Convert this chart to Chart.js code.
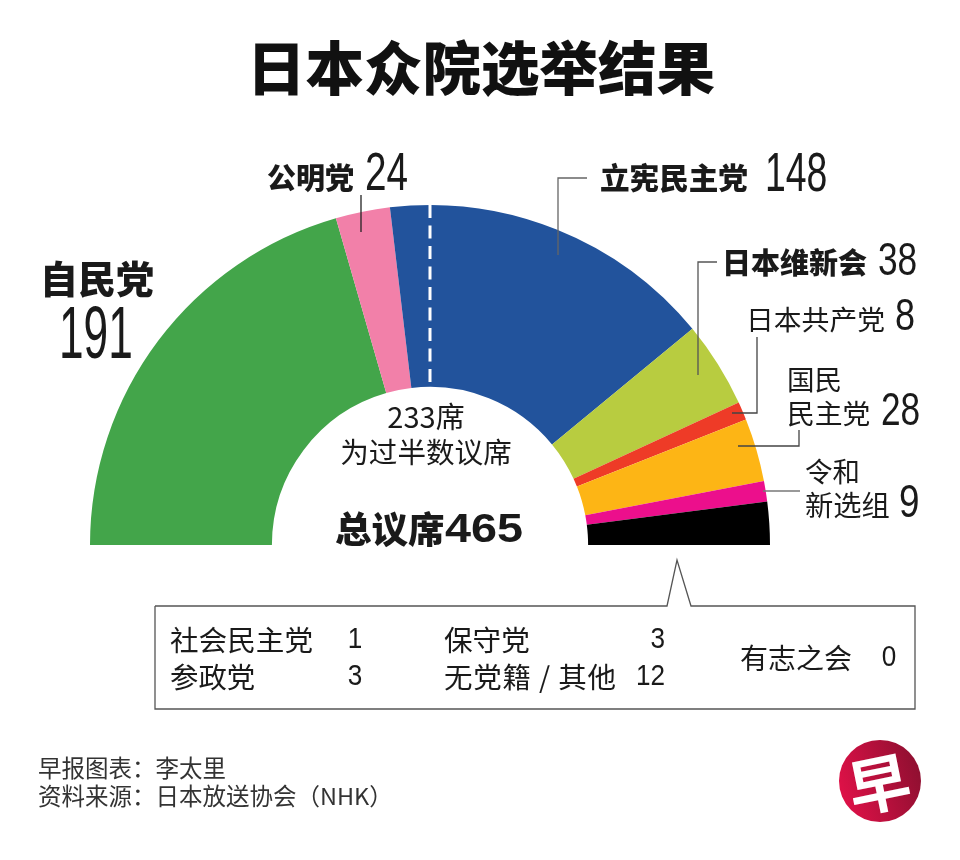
<!DOCTYPE html>
<html>
<head>
<meta charset="utf-8">
<style>
  html, body { margin: 0; padding: 0; background: #fff; }
  canvas { display: block; }
</style>
<script src="https://cdn.jsdelivr.net/npm/chart.js@4/dist/chart.umd.min.js"></script>
</head>
<body>
<canvas id="seatChart" width="960" height="860"></canvas>
<script>
const parties = ['自民党', '公明党', '立宪民主党', '日本维新会', '日本共产党', '国民民主党', '令和新选组', '其他'];
const seats = [191, 24, 148, 38, 8, 28, 9, 19];
const colors = ['#43A54A', '#F280A9', '#22539C', '#B8CC40', '#EE3B27', '#FDB515', '#EC0F8C', '#000000'];

const titleText = '日本众院选举结果';
const majorityLines = ['233席', '为过半数议席'];
const totalLabel = '总议席';
const totalSeats = 465;
const otherNames = ['社会民主党', '参政党', '保守党', '无党籍 / 其他', '有志之会'];
const otherSeats = [1, 3, 3, 12, 0];
const creditLines = ['早报图表：李太里', '资料来源：日本放送协会（NHK）'];

const CJK = '"Noto Sans CJK SC", "Noto Sans", sans-serif';
const LATIN = '"Liberation Sans", Arial, sans-serif';

function label(ctx, str, x, y, size, opts) {
  const o = opts || {};
  ctx.save();
  ctx.font = (o.weight || 400) + ' ' + size + 'px ' + (o.family || CJK);
  ctx.fillStyle = o.color || '#1a1a1a';
  ctx.textAlign = o.align || 'left';
  ctx.textBaseline = 'middle';
  ctx.letterSpacing = (o.spacing || 0) + 'px';
  ctx.translate(x, y);
  ctx.scale(o.sx || 1, 1);
  ctx.fillText(str, 0, 0);
  ctx.restore();
}

// tall thin seat numbers, sits on a given baseline
function bigNumber(ctx, value, x, base, size, sx) {
  ctx.save();
  ctx.font = '400 ' + size + 'px ' + LATIN;
  ctx.fillStyle = '#1a1a1a';
  ctx.textBaseline = 'alphabetic';
  ctx.translate(x, base);
  ctx.scale(sx, 1);
  ctx.fillText(String(value), 0, 0);
  ctx.restore();
}

function leader(ctx, pts, color) {
  ctx.save();
  ctx.strokeStyle = color || '#555';
  ctx.lineWidth = 1.3;
  ctx.beginPath();
  pts.forEach((p, i) => i ? ctx.lineTo(p[0], p[1]) : ctx.moveTo(p[0], p[1]));
  ctx.stroke();
  ctx.restore();
}

const annotations = {
  id: 'annotations',
  afterDraw(chart) {
    const ctx = chart.ctx;
    const arc = chart.getDatasetMeta(0).data[0];
    const cx = arc.x, cy = arc.y;

    // majority line
    ctx.save();
    ctx.strokeStyle = '#fff';
    ctx.lineWidth = 3;
    ctx.setLineDash([13, 7.5]);
    ctx.beginPath();
    ctx.moveTo(cx, cy - arc.outerRadius);
    ctx.lineTo(cx, cy - arc.innerRadius);
    ctx.stroke();
    ctx.restore();

    label(ctx, titleText, 481, 68, 58.5, { weight: 900, align: 'center', color: '#111' });

    // party labels
    label(ctx, parties[0], 40, 279, 38, { weight: 900 });
    bigNumber(ctx, seats[0], 59, 358, 75, 0.59);
    label(ctx, parties[1], 267, 178, 29, { weight: 900 });
    bigNumber(ctx, seats[1], 365, 190, 53, 0.73);
    label(ctx, parties[2], 600, 178, 29.6, { weight: 900 });
    bigNumber(ctx, seats[2], 765, 191, 55, 0.68);
    label(ctx, parties[3], 722, 263, 29, { weight: 900 });
    bigNumber(ctx, seats[3], 878, 275, 47, 0.75);
    label(ctx, parties[4], 746, 319, 27.8);
    bigNumber(ctx, seats[4], 895, 330, 45, 0.8);
    label(ctx, parties[5].slice(0, 2), 787, 380, 27.5);
    label(ctx, parties[5].slice(2), 787, 413, 27.8);
    bigNumber(ctx, seats[5], 881, 425, 47, 0.75);
    label(ctx, parties[6].slice(0, 2), 805, 472, 27.5);
    label(ctx, parties[6].slice(2), 805, 505, 28.3);
    bigNumber(ctx, seats[6], 899, 517, 46, 0.8);

    // leader lines
    leader(ctx, [[361, 195], [361, 232]], '#222');
    leader(ctx, [[558, 255], [558, 178], [587, 178]], '#666');
    leader(ctx, [[698, 375], [698, 262], [717, 262]], '#555');
    leader(ctx, [[757, 337], [757, 413], [732, 413]], '#444');
    leader(ctx, [[799, 430], [799, 446], [738, 446]], '#444');
    leader(ctx, [[763, 491], [800, 491]], '#777');

    // centre text
    label(ctx, majorityLines[0], 426, 417, 29, { align: 'center' });
    label(ctx, majorityLines[1], 426, 452, 28.6, { align: 'center' });
    label(ctx, totalLabel, 335, 529, 36.5, { weight: 900 });
    label(ctx, String(totalSeats), 445, 531, 41, { weight: 700, family: LATIN, sx: 1.14 });

    // box for the small parties
    leader(ctx, [[155, 606], [667, 606], [677, 560], [691, 606], [915, 606], [915, 709], [155, 709], [155, 606]], '#555');
    const digit = { family: LATIN, sx: 0.9 };
    label(ctx, otherNames[0], 170, 640, 28.6);
    label(ctx, String(otherSeats[0]), 355, 640, 29, { ...digit, align: 'center' });
    label(ctx, otherNames[1], 170, 677, 28.4);
    label(ctx, String(otherSeats[1]), 355, 677, 29, { ...digit, align: 'center' });
    label(ctx, otherNames[2], 444, 640, 28.6);
    label(ctx, String(otherSeats[2]), 665, 640, 29, { ...digit, align: 'right' });
    label(ctx, otherNames[3], 444, 677, 28.5, { spacing: 0.8 });
    label(ctx, String(otherSeats[3]), 665, 677, 29, { ...digit, align: 'right' });
    label(ctx, otherNames[4], 740, 658, 28);
    label(ctx, String(otherSeats[4]), 889, 658, 29, { ...digit, align: 'center' });

    // credits
    label(ctx, creditLines[0], 38, 768, 23.5, { color: '#333' });
    label(ctx, creditLines[1], 38, 796, 23.5, { color: '#333' });

    // logo
    ctx.save();
    const grad = ctx.createLinearGradient(842, 790, 920, 765);
    grad.addColorStop(0, '#DC1147');
    grad.addColorStop(1, '#8E0F30');
    ctx.fillStyle = grad;
    ctx.beginPath();
    ctx.arc(880, 781, 41, 0, Math.PI * 2);
    ctx.fill();
    ctx.translate(879, 784);
    ctx.rotate(-0.2);
    label(ctx, '早', 0, 0, 62, { weight: 700, align: 'center', color: '#fff' });
    ctx.restore();
  }
};

new Chart(document.getElementById('seatChart'), {
  type: 'doughnut',
  data: {
    labels: parties,
    datasets: [{ data: seats, backgroundColor: colors, borderWidth: 0 }]
  },
  options: {
    responsive: false,
    animation: false,
    rotation: -90,
    circumference: 180,
    cutout: '46.5%',
    layout: { padding: { left: 90, right: 190, top: 205, bottom: 315 } },
    plugins: { legend: { display: false }, tooltip: { enabled: false } }
  },
  plugins: [{
    id: 'whiteBg',
    beforeDraw(chart) {
      chart.ctx.save();
      chart.ctx.fillStyle = '#fff';
      chart.ctx.fillRect(0, 0, chart.width, chart.height);
      chart.ctx.restore();
    }
  }, annotations]
});
</script>
</body>
</html>
